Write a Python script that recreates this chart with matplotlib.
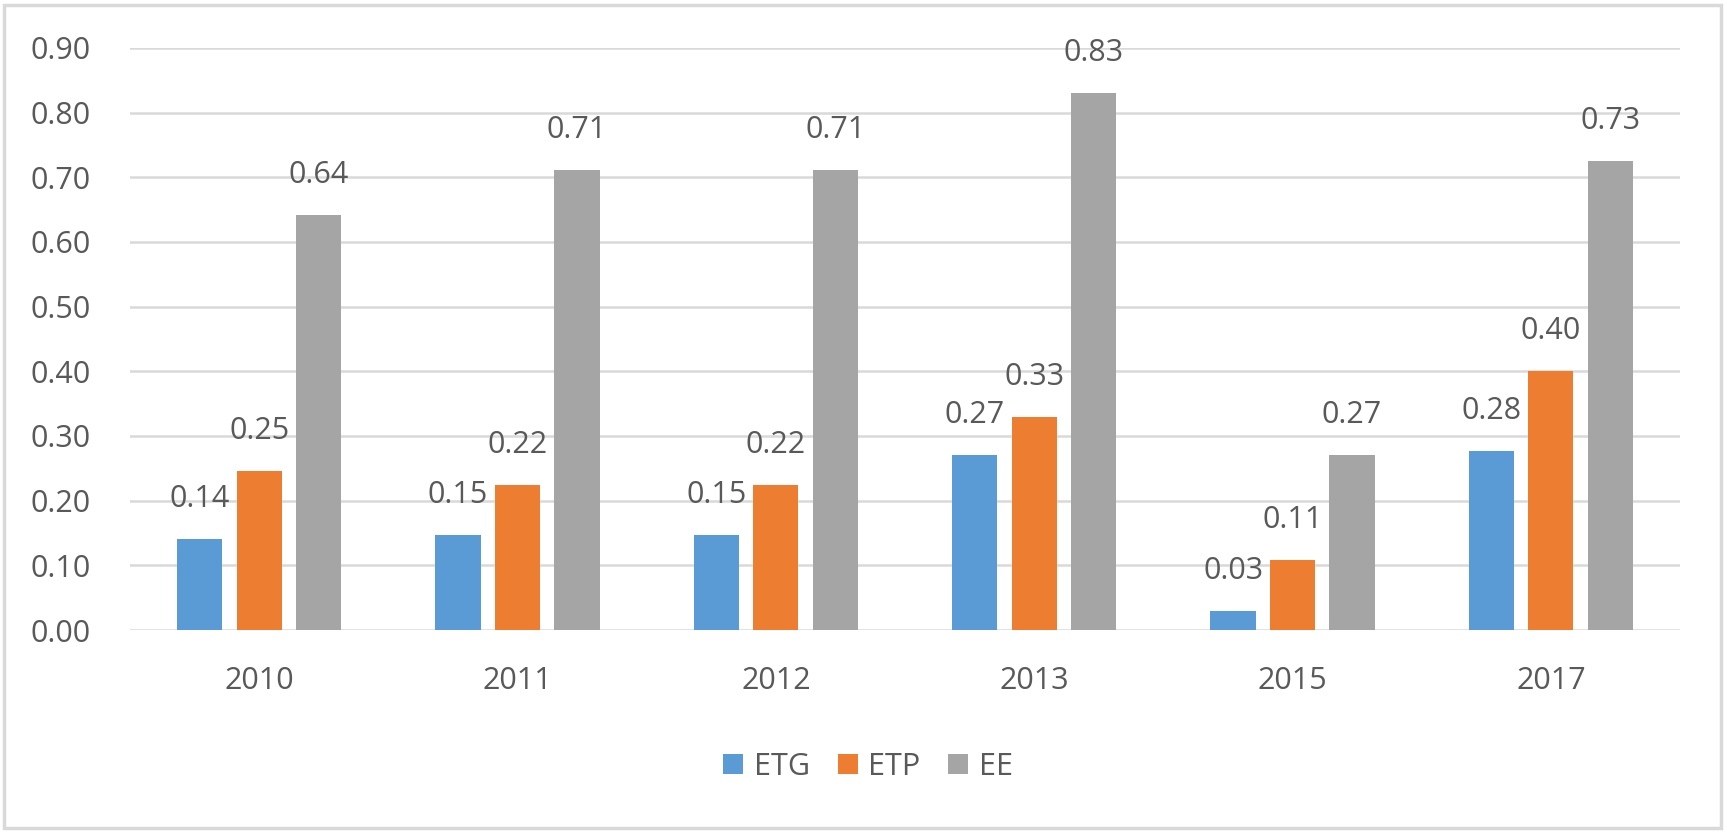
import matplotlib
matplotlib.use("Agg")
import matplotlib.pyplot as plt
from matplotlib.patches import Rectangle
import numpy as np

years = ["2010", "2011", "2012", "2013", "2015", "2017"]
series_names = ["ETG", "ETP", "EE"]
etg = [0.141, 0.147, 0.147, 0.270, 0.030, 0.277]
etp = [0.246, 0.224, 0.224, 0.330, 0.108, 0.401]
ee = [0.641, 0.712, 0.712, 0.830, 0.270, 0.726]
yticks = [0.0, 0.1, 0.2, 0.3, 0.4, 0.5, 0.6, 0.7, 0.8, 0.9]

colors = ["#5B9BD5", "#ED7D31", "#A5A5A5"]
text_color = "#595959"
grid_color = "#D9D9D9"

plt.rcParams['font.family'] = ['Open Sans', 'DejaVu Sans']

W, H = 1727, 833
fig = plt.figure(figsize=(W / 100, H / 100), dpi=100)
ax = fig.add_axes([130 / W, 1 - 630 / H, (1680 - 130) / W, (630 - 48) / H])

x = np.arange(len(years))
width = 0.175
pitch = 0.23
fs = 22
for i, (vals, name) in enumerate(zip([etg, etp, ee], series_names)):
    pos = x + (i - 1) * pitch
    bars = ax.bar(pos, vals, width=width, color=colors[i], label=name, zorder=3)
    for b, v in zip(bars, vals):
        ax.annotate(f"{v:.2f}", xy=(b.get_x() + b.get_width() / 2, v),
                    xytext=(0, 18), textcoords="offset points",
                    ha="center", va="bottom", fontsize=fs, color=text_color, zorder=4)

ax.set_xlim(-0.5, len(years) - 0.5)
ax.set_ylim(0, 0.9)
ax.set_yticks(yticks)
ax.set_yticklabels([f"{t:.2f}" for t in yticks])
ax.set_xticks(x)
ax.set_xticklabels(years)
ax.tick_params(axis="both", length=0, labelsize=fs, labelcolor=text_color)
ax.tick_params(axis="y", pad=28)
ax.tick_params(axis="x", pad=26)
ax.grid(axis="y", color=grid_color, linewidth=1.8, zorder=0)
ax.set_axisbelow(True)
for s in ax.spines.values():
    s.set_visible(False)

leg = fig.legend(loc="center", bbox_to_anchor=(868 / W, 1 - 767 / H), ncol=3,
                 frameon=False, fontsize=fs, handlelength=0.65, handleheight=0.65,
                 handletextpad=0.35, columnspacing=0.9, labelcolor=text_color)

fig.patches.append(Rectangle((4 / W, 5 / H), (1721 - 4) / W, (828 - 5) / H,
                             transform=fig.transFigure, fill=False,
                             edgecolor=grid_color, linewidth=2.5))

fig.savefig("out.png", dpi=100, facecolor="white")
